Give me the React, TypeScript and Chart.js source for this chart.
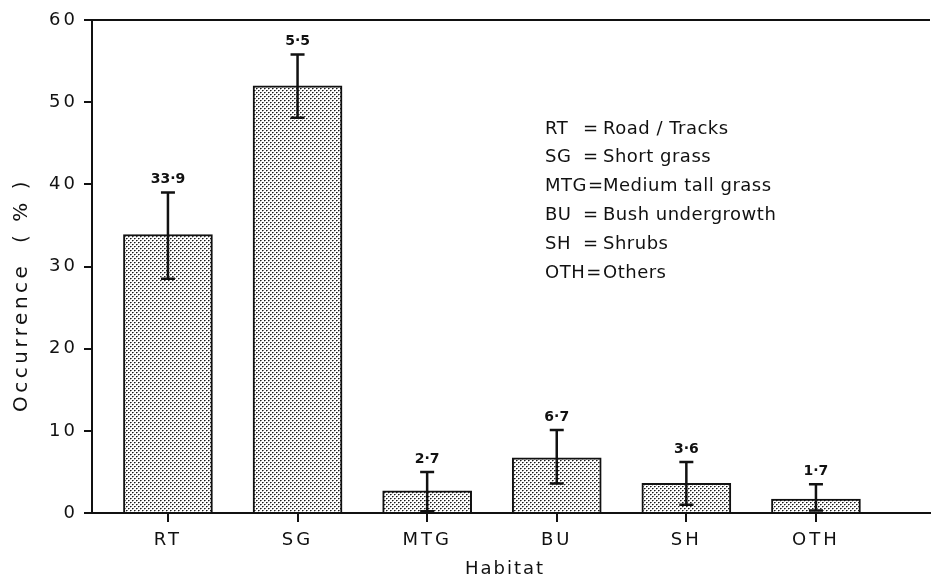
import React, { useEffect, useRef } from 'react';
import { Chart, registerables } from 'chart.js';

Chart.register(...registerables);

const categories = ['RT', 'SG', 'MTG', 'BU', 'SH', 'OTH'];
const occurrence = [33.9, 52.0, 2.7, 6.7, 3.6, 1.7];
const errorHigh = [39.0, 55.8, 5.0, 10.1, 6.2, 3.5];
const errorLow = [28.5, 48.1, 0.2, 3.6, 1.0, 0.3];
const valueLabels = ['33·9', '5·5', '2·7', '6·7', '3·6', '1·7'];
const yTicks = [0, 10, 20, 30, 40, 50, 60];
const xTitle = 'Habitat';
const yTitle = 'Occurrence  ( % )';
const legendAbbr = ['RT', 'SG', 'MTG', 'BU', 'SH', 'OTH'];
const legendDesc = ['Road / Tracks', 'Short grass', 'Medium tall grass', 'Bush undergrowth', 'Shrubs', 'Others'];

const FONT = '"DejaVu Sans", sans-serif';
const INK = '#111111';

function makePattern(): CanvasPattern | string {
  const c = document.createElement('canvas');
  c.width = 4;
  c.height = 4;
  const g = c.getContext('2d');
  if (!g) return '#c8c8c8';
  g.fillStyle = '#ffffff';
  g.fillRect(0, 0, 4, 4);
  g.fillStyle = '#1a1a1a';
  g.fillRect(0, 0, 1, 1);
  g.fillRect(2, 2, 1, 1);
  g.fillStyle = '#7a7a7a';
  g.fillRect(1, 0, 1, 1);
  g.fillRect(3, 2, 1, 1);
  g.fillStyle = '#bdbdbd';
  g.fillRect(0, 1, 1, 1);
  g.fillRect(2, 3, 1, 1);
  const p = g.createPattern(c, 'repeat');
  return p || '#c8c8c8';
}

const decorPlugin = {
  id: 'decor',
  beforeDraw(chart: any) {
    (chart.ctx as any).letterSpacing = '3px';
  },
  afterDatasetsDraw(chart: any) {
    const ctx = chart.ctx;
    const xs = chart.scales.x;
    const ys = chart.scales.y;
    ctx.save();
    (ctx as any).letterSpacing = '0px';
    ctx.strokeStyle = INK;
    ctx.lineWidth = 2.5;
    categories.forEach((_, i) => {
      const x = xs.getPixelForValue(i);
      const yt = ys.getPixelForValue(errorHigh[i]);
      const yb = ys.getPixelForValue(errorLow[i]);
      ctx.beginPath();
      ctx.moveTo(x, yt);
      ctx.lineTo(x, yb);
      ctx.moveTo(x - 7, yt);
      ctx.lineTo(x + 7, yt);
      ctx.moveTo(x - 7, yb);
      ctx.lineTo(x + 7, yb);
      ctx.stroke();
      ctx.fillStyle = INK;
      ctx.font = 'bold 14px ' + FONT;
      ctx.textAlign = 'center';
      ctx.textBaseline = 'middle';
      ctx.fillText(valueLabels[i], x, yt - 13);
    });
    ctx.restore();
  },
  afterDraw(chart: any) {
    const ctx = chart.ctx;
    const area = chart.chartArea;
    ctx.save();
    // top frame line
    ctx.strokeStyle = INK;
    ctx.lineWidth = 2;
    ctx.beginPath();
    ctx.moveTo(area.left, area.top);
    ctx.lineTo(area.right, area.top);
    ctx.stroke();

    ctx.fillStyle = INK;
    // x title
    (ctx as any).letterSpacing = '2px';
    ctx.font = '18px ' + FONT;
    ctx.textAlign = 'center';
    ctx.textBaseline = 'middle';
    ctx.fillText(xTitle, 505, 569);

    // y title
    ctx.save();
    (ctx as any).letterSpacing = '3.5px';
    ctx.font = '20px ' + FONT;
    ctx.translate(22, 295);
    ctx.rotate(-Math.PI / 2);
    ctx.textAlign = 'center';
    ctx.textBaseline = 'middle';
    ctx.fillText(yTitle, 0, 0);
    ctx.restore();

    // legend text block
    (ctx as any).letterSpacing = '0.5px';
    ctx.font = '18px ' + FONT;
    ctx.textAlign = 'left';
    ctx.textBaseline = 'middle';
    legendAbbr.forEach((a, i) => {
      const y = 129 + i * 28.8;
      ctx.fillText(a, 545, y);
      const w = ctx.measureText(a).width;
      const eqX = Math.max(583, 545 + w + 1);
      ctx.fillText('=', eqX, y);
      ctx.fillText(legendDesc[i], 603, y);
    });
    ctx.restore();
  },
};

export default function App() {
  const ref = useRef<HTMLCanvasElement | null>(null);
  useEffect(() => {
    const canvas = ref.current;
    if (!canvas) return;
    const pattern = makePattern();
    const tickFont = { family: FONT, size: 18 };
    const chart = new Chart(canvas, {
      type: 'bar',
      data: {
        datasets: [
          {
            data: categories.map((_, i) => ({ x: i, y: occurrence[i] })),
            backgroundColor: pattern as any,
            borderColor: INK,
            borderWidth: 2,
            barThickness: 89,
          },
        ],
      },
      options: {
        responsive: false,
        animation: false,
        layout: { padding: { top: 20, right: 3, left: 0, bottom: 0 } },
        plugins: { legend: { display: false }, tooltip: { enabled: false } },
        scales: {
          x: {
            type: 'linear',
            offset: false,
            min: -0.586,
            max: 5.88,
            afterBuildTicks: (s: any) => {
              s.ticks = categories.map((_, i) => ({ value: i }));
            },
            afterFit: (s: any) => {
              s.height = 68;
            },
            ticks: {
              callback: (v: any) => categories[v] ?? '',
              font: tickFont,
              color: INK,
              padding: 8,
              autoSkip: false,
              maxRotation: 0,
            },
            grid: { offset: false, drawOnChartArea: false, tickLength: 9, color: INK, lineWidth: 2 },
            border: { color: INK, width: 2 },
          },
          y: {
            min: 0,
            max: 60,
            afterBuildTicks: (s: any) => {
              s.ticks = yTicks.map((v) => ({ value: v }));
            },
            afterFit: (s: any) => {
              s.width = 92;
            },
            ticks: { font: tickFont, color: INK, padding: 6 },
            grid: { drawOnChartArea: false, tickLength: 8, color: INK, lineWidth: 2 },
            border: { color: INK, width: 2 },
          },
        },
      } as any,
      plugins: [decorPlugin as any],
    });
    return () => chart.destroy();
  }, []);
  return (
    <div style={{ position: 'fixed', left: 0, top: 0, width: 933, height: 581, background: '#ffffff' }}>
      <canvas ref={ref} width={933} height={581} style={{ width: 933, height: 581, display: 'block' }} />
    </div>
  );
}
